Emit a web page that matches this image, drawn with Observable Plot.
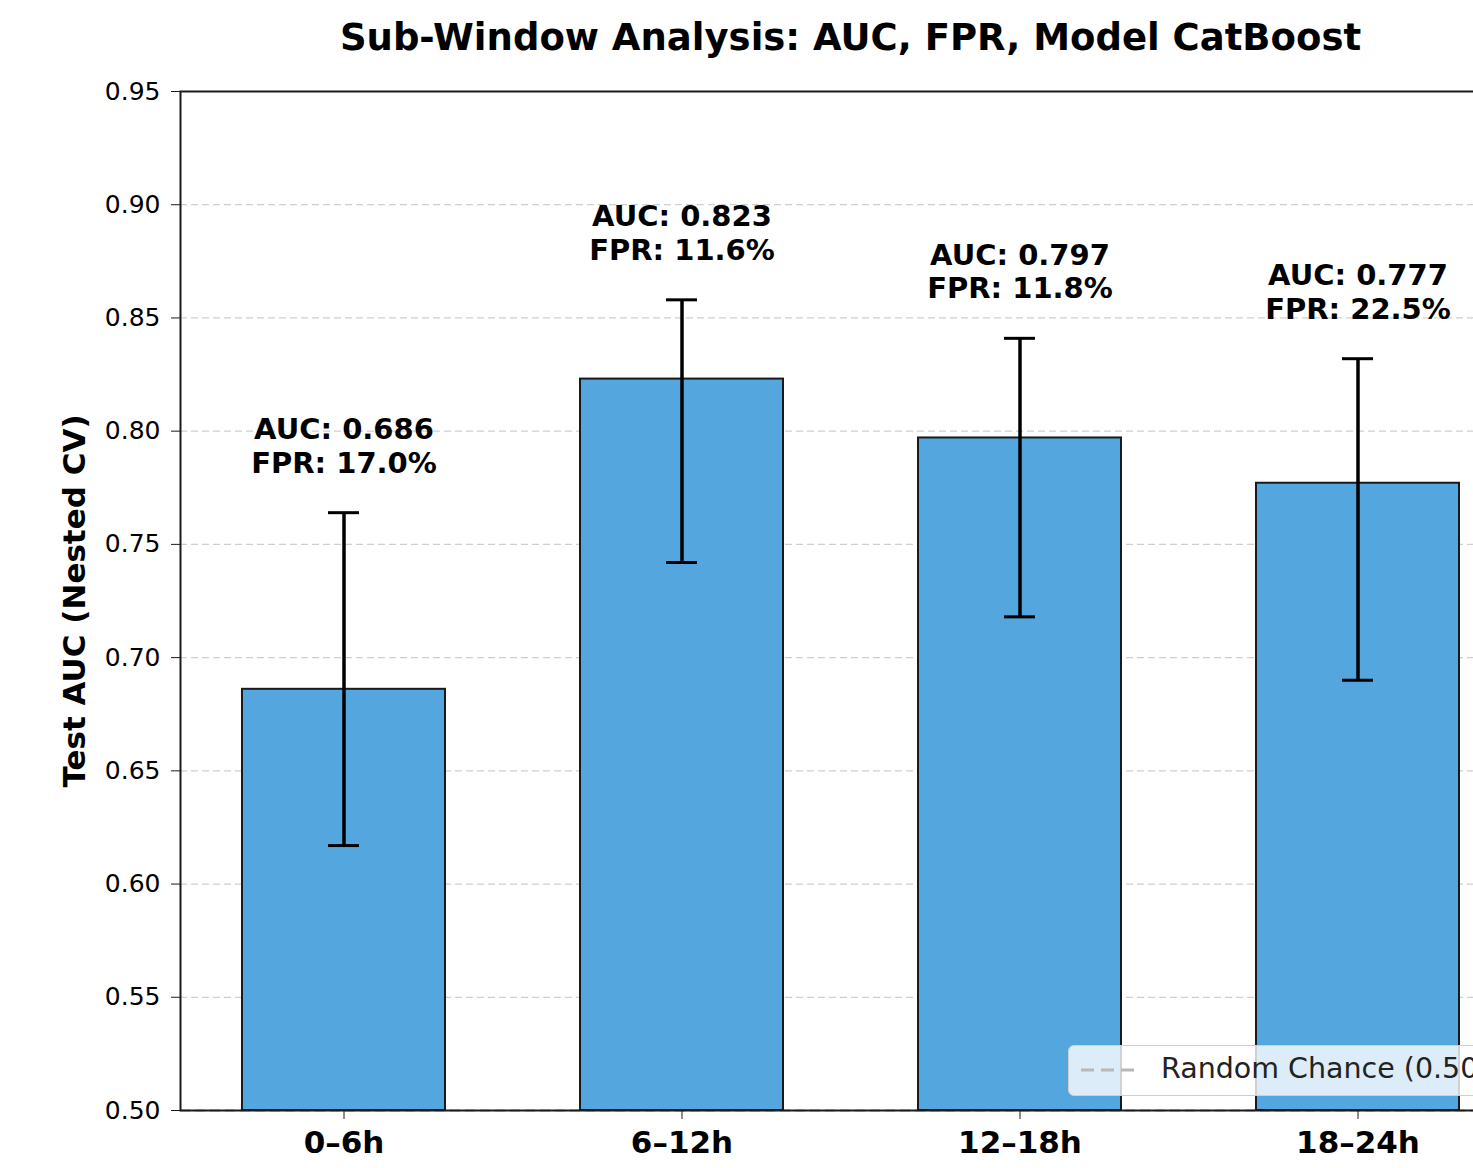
<!DOCTYPE html>
<html>
<head>
<meta charset="utf-8">
<script src="https://cdn.jsdelivr.net/npm/d3@7"></script>
<script src="https://cdn.jsdelivr.net/npm/@observablehq/plot@0.6"></script>
<style>
  html, body { margin: 0; padding: 0; background: white; overflow: hidden; }
  #wrap { position: relative; width: 1473px; height: 1168px; overflow: hidden; }
  #legend {
    position: absolute; left: 1068px; top: 1045px; width: 480px; height: 51px;
    background: rgba(255,255,255,0.8); border: 1.5px solid #d0d0d0; border-radius: 6px;
    box-sizing: border-box; font-family: "DejaVu Sans", sans-serif; font-size: 28.5px; color: #222;
  }
  #legend svg { position: absolute; left: 10px; top: 11px; }
  #legend span { position: absolute; left: 92px; top: 6px; white-space: nowrap; }
</style>
</head>
<body>
<div id="wrap"></div>
<script>
const windows = ["0–6h", "6–12h", "12–18h", "18–24h"];
const auc = [0.686, 0.823, 0.797, 0.777];
const fpr = [17.0, 11.6, 11.8, 22.5];
const lower = [0.617, 0.742, 0.718, 0.690];
const upper = [0.764, 0.858, 0.841, 0.832];
const yTicks = [0.50, 0.55, 0.60, 0.65, 0.70, 0.75, 0.80, 0.85, 0.90, 0.95];
const chance = 0.5;
const titleText = "Sub-Window Analysis: AUC, FPR, Model CatBoost";

const data = windows.map((w, i) => ({
  w, auc: auc[i], fpr: fpr[i], lo: lower[i], hi: upper[i],
  label: `AUC: ${auc[i].toFixed(3)}\nFPR: ${fpr[i].toFixed(1)}%`
}));

const chart = Plot.plot({
  width: 1473,
  height: 1168,
  marginTop: 91,
  marginBottom: 58,
  marginLeft: 180,
  marginRight: -47,
  style: { fontFamily: "DejaVu Sans, sans-serif", overflow: "hidden", background: "white" },
  x: { domain: windows, paddingInner: 0.4, paddingOuter: 0.18, align: 0.5 },
  y: { domain: [0.5, 0.95] },
  marks: [
    Plot.gridY(yTicks, { stroke: "#cfcfcf", strokeOpacity: 1, strokeWidth: 1.2, strokeDasharray: "7,4" }),
    Plot.ruleY([chance], { stroke: "#aaaaaa", strokeDasharray: "10,5", strokeWidth: 2 }),
    Plot.barY(data, { x: "w", y1: chance, y2: "auc", fill: "#53a6de", stroke: "#1a1a1a", strokeWidth: 2 }),
    Plot.ruleX(data, { x: "w", y1: "lo", y2: "hi", stroke: "black", strokeWidth: 3.5 }),
    Plot.tickY(data, { x: "w", y: "lo", stroke: "black", strokeWidth: 3, insetLeft: 86, insetRight: 86 }),
    Plot.tickY(data, { x: "w", y: "hi", stroke: "black", strokeWidth: 3, insetLeft: 86, insetRight: 86 }),
    Plot.text(data, { x: "w", y: "hi", text: "label", dy: -40, lineAnchor: "bottom", fontSize: 29, fontWeight: "bold", lineHeight: 1.15, fill: "black" }),
    Plot.frame({ stroke: "#1a1a1a", strokeWidth: 2 }),
    Plot.axisY(yTicks, { tickSize: 9, tickPadding: 11, fontSize: 25, tickFormat: d3.format(".2f"), stroke: "#1a1a1a",
      label: "Test AUC (Nested CV)", labelAnchor: "center", labelArrow: "none", labelOffset: 118 }),
    Plot.axisX({ tickSize: 9, tickPadding: 11, fontSize: 31, fontWeight: "bold", label: null, stroke: "#1a1a1a" }),
    Plot.text([titleText], { frameAnchor: "top", dy: -53, fontSize: 37, fontWeight: "bold", fill: "black", lineAnchor: "middle" })
  ]
});

// style y label
chart.querySelectorAll("g[aria-label='y-axis label'] text").forEach(t => {
  t.setAttribute("font-size", "31");
  t.setAttribute("font-weight", "bold");
});

document.getElementById("wrap").appendChild(chart);

const leg = document.createElement("div");
leg.id = "legend";
leg.innerHTML = `<svg width="60" height="26"><line x1="2" y1="13" x2="58" y2="13" stroke="#b8b8b8" stroke-width="3" stroke-dasharray="13,7"/></svg><span>Random Chance (0.50)</span>`;
document.getElementById("wrap").appendChild(leg);
</script>
</body>
</html>
